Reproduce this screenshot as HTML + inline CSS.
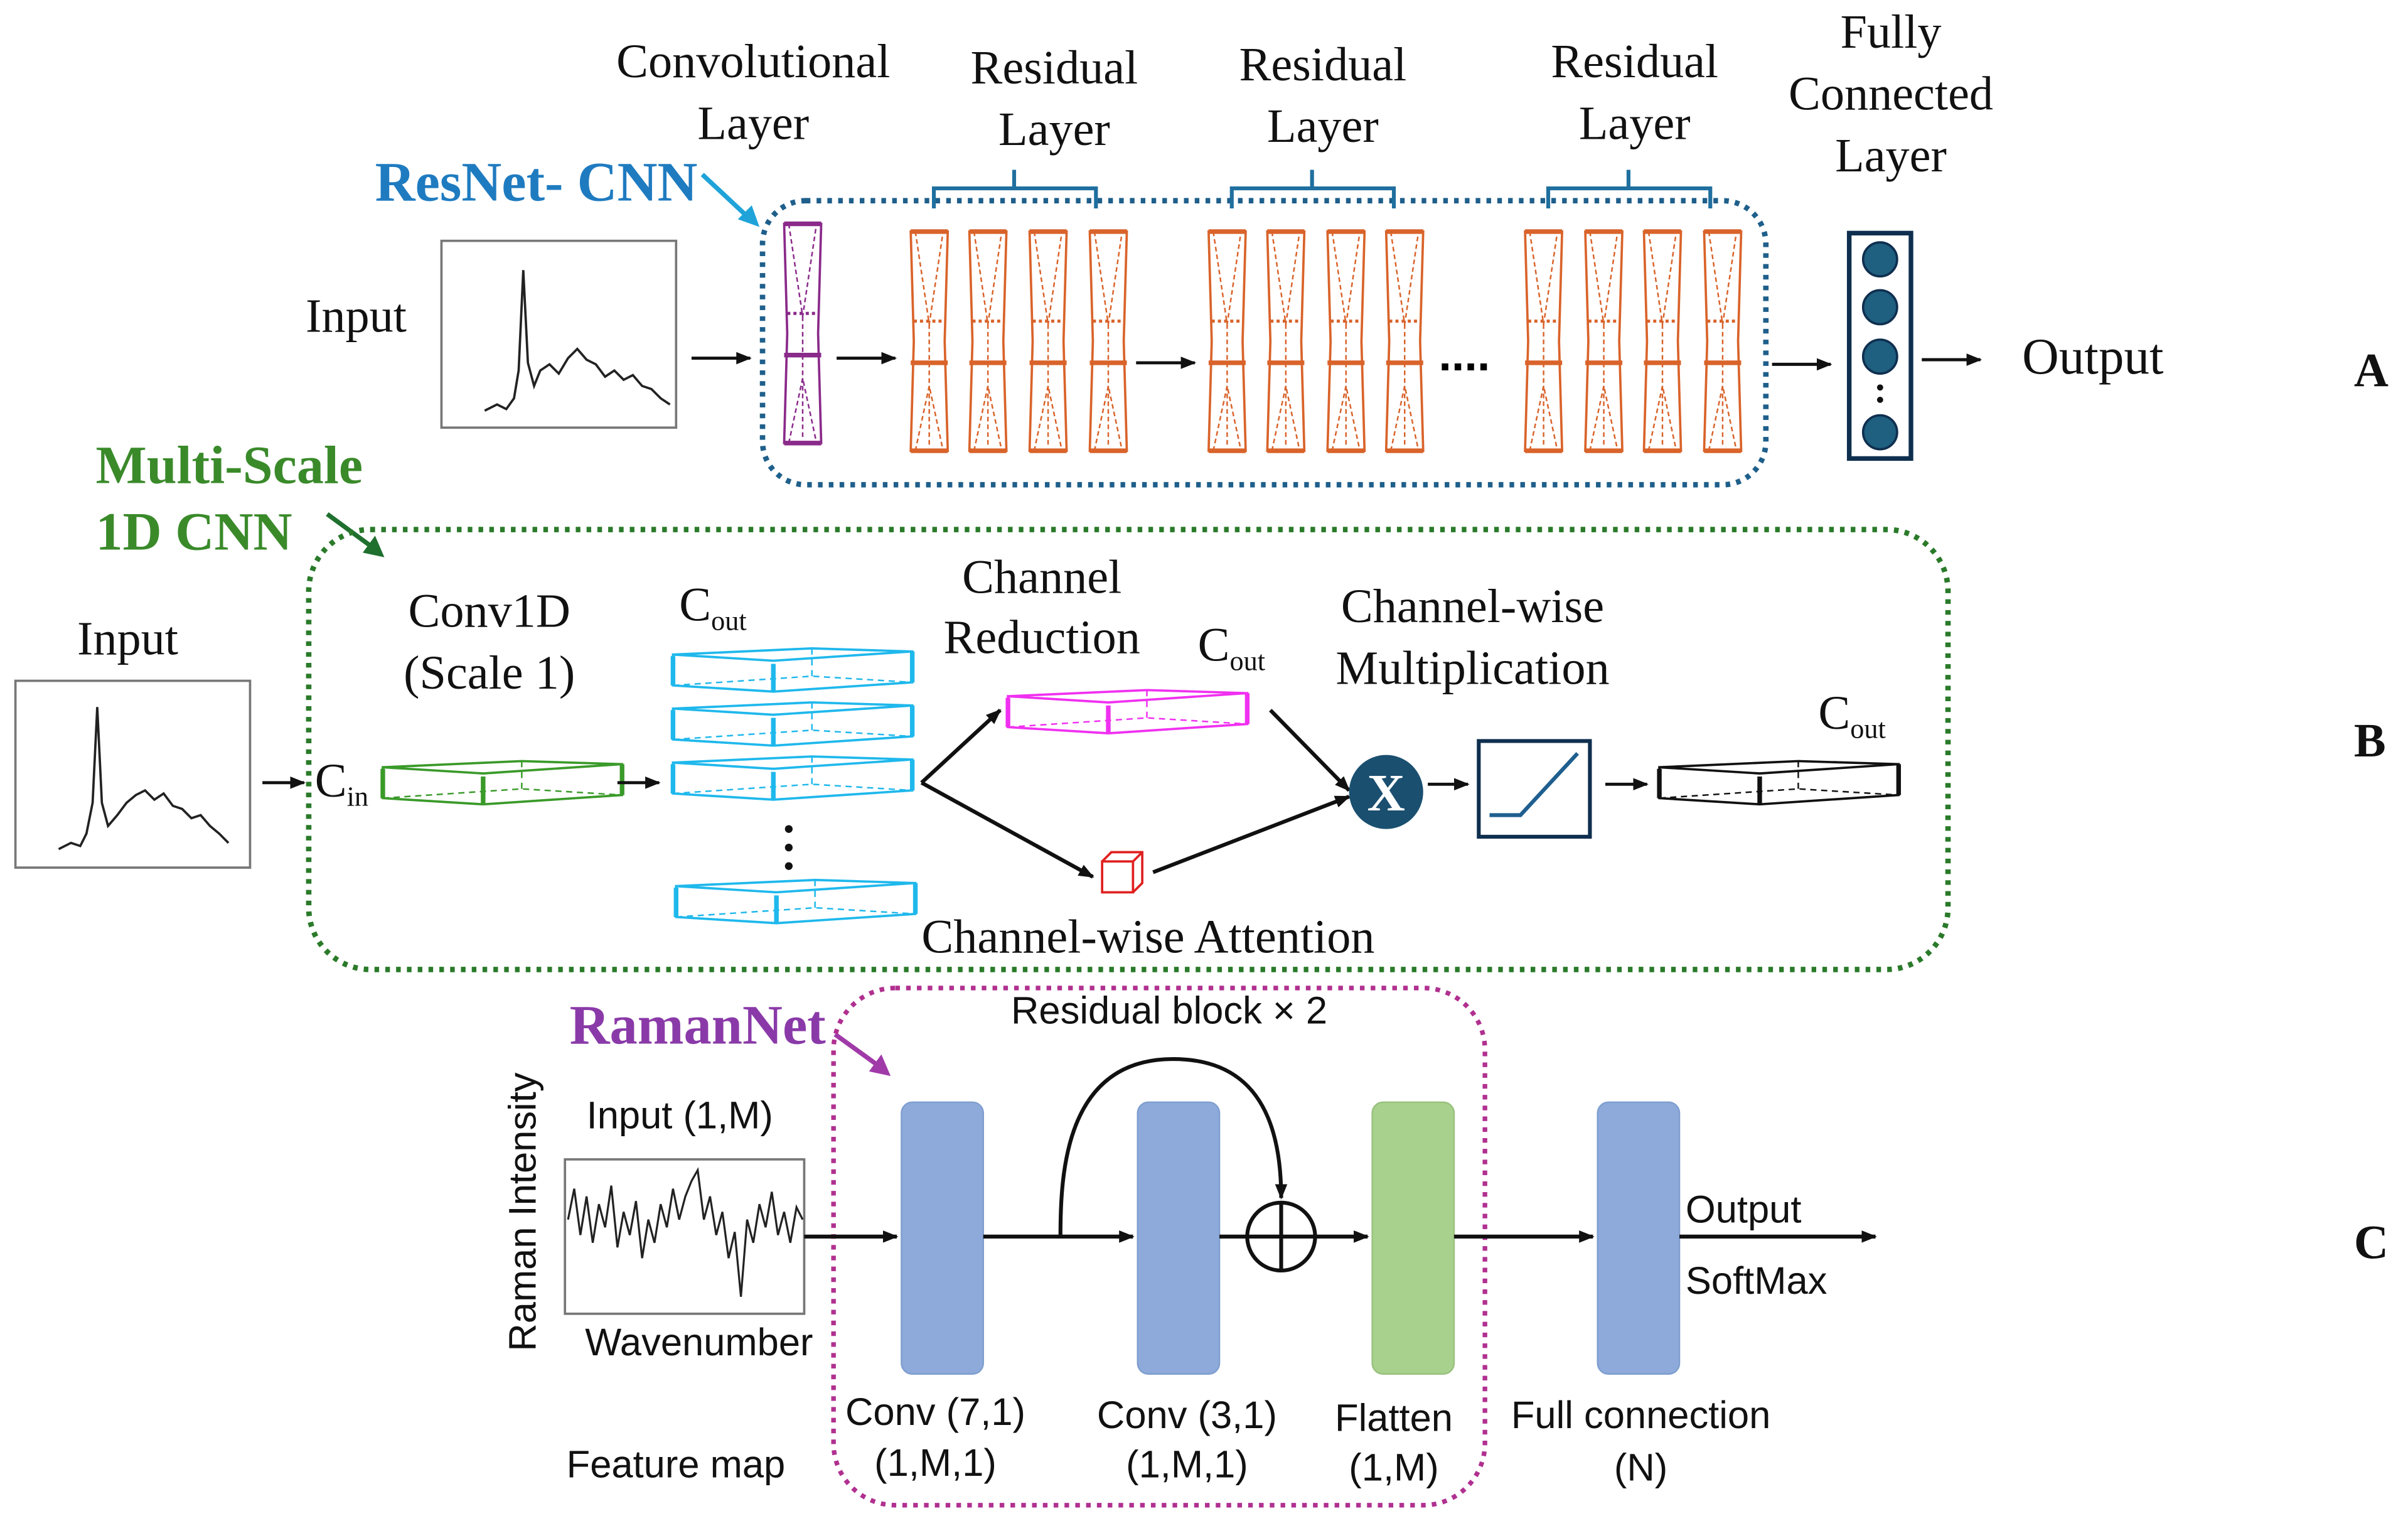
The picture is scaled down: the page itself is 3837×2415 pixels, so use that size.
<!DOCTYPE html>
<html><head><meta charset="utf-8"><style>
html,body{margin:0;padding:0;background:#fff;}
svg{display:block;}
.s{font-family:"Liberation Serif",serif;font-size:31px;fill:#111;}
.a{font-family:"Liberation Sans",sans-serif;font-size:25px;fill:#111;}
</style></head><body>
<svg width="3837" height="2415" viewBox="0 0 1560 982" preserveAspectRatio="none" xmlns="http://www.w3.org/2000/svg">
<defs>
<marker id="ar" markerWidth="10" markerHeight="10" refX="9" refY="5" orient="auto" markerUnits="userSpaceOnUse"><path d="M0,1 L10,5 L0,9z" fill="#111"/></marker>
<g id="lay">
<path d="M0,0 H24 L22,71 L24,142 H0 L2,71 Z" fill="none" stroke-width="1.5"/>
<path d="M0,0 H24 M0,142 H24 M0,85 H24" stroke-width="3"/>
<path d="M3,0 L12,60 L21,0 M3,142 L12,100 L21,142 M12,60 V140" fill="none" stroke-width="1" stroke-dasharray="3,2"/>
<path d="M2,58 H22" stroke-width="2" stroke-dasharray="2,2"/>
</g>
<g id="slab">
<path d="M0,4 L65,8 L155,2 L155,22 L65,28 L0,24 Z M0,4 L90,0 L155,2" fill="none" stroke-width="1.5"/>
<path d="M65,10 V28 M0,5 V24 M155,2 V22" stroke-width="3"/>
<path d="M0,24 L90,18 L155,22 M90,0 V18" fill="none" stroke-width="1" stroke-dasharray="4,3"/>
</g>
</defs>

<!-- Section A -->
<text class="s" x="488" y="50" text-anchor="middle">Convolutional</text>
<text class="s" x="488" y="90" text-anchor="middle">Layer</text>
<text class="s" x="683" y="54" text-anchor="middle">Residual</text>
<text class="s" x="683" y="94" text-anchor="middle">Layer</text>
<text class="s" x="857" y="52" text-anchor="middle">Residual</text>
<text class="s" x="857" y="92" text-anchor="middle">Layer</text>
<text class="s" x="1059" y="50" text-anchor="middle">Residual</text>
<text class="s" x="1059" y="90" text-anchor="middle">Layer</text>
<text class="s" x="1225" y="31" text-anchor="middle">Fully</text>
<text class="s" x="1225" y="71" text-anchor="middle">Connected</text>
<text class="s" x="1225" y="111" text-anchor="middle">Layer</text>
<text x="243" y="130" style="font-family:'Liberation Serif',serif;font-size:36px;font-weight:bold;fill:#1f7bc0">ResNet- CNN</text>
<path d="M455,113 L486,142" stroke="#1fa3d8" stroke-width="3"/><path d="M492,147 L478,142 L487,133z" fill="#1fa3d8"/>
<rect x="286" y="156" width="152" height="121" fill="#fff" stroke="#777" stroke-width="1.5"/>
<polyline points="314,266 322,262 328,265 333,258 336,240 339,175 342,235 346,250 350,240 356,236 362,242 368,232 374,226 380,233 386,236 392,244 398,240 404,246 410,243 416,250 422,252 428,258 434,262" fill="none" stroke="#222" stroke-width="1.5"/>
<text class="s" x="198" y="215">Input</text>
<path d="M448,232 H486" stroke="#111" stroke-width="2" marker-end="url(#ar)"/>
<rect x="494" y="130" width="650" height="184" rx="28" fill="none" stroke="#1f5f8b" stroke-width="3.5" stroke-dasharray="3,4"/>
<use href="#lay" x="508" y="145" stroke="#8a2a8a"/>
<path d="M542,232 H580" stroke="#111" stroke-width="2" marker-end="url(#ar)"/>
<g stroke="#d9632a">
<use href="#lay" x="590" y="150"/><use href="#lay" x="628" y="150"/><use href="#lay" x="667" y="150"/><use href="#lay" x="706" y="150"/>
<use href="#lay" x="783" y="150"/><use href="#lay" x="821" y="150"/><use href="#lay" x="860" y="150"/><use href="#lay" x="898" y="150"/>
<use href="#lay" x="988" y="150"/><use href="#lay" x="1027" y="150"/><use href="#lay" x="1065" y="150"/><use href="#lay" x="1104" y="150"/>
</g>
<path d="M736,235 H774" stroke="#111" stroke-width="2" marker-end="url(#ar)"/>
<text x="932" y="240" style="font-family:'Liberation Sans',sans-serif;font-size:30px;font-weight:bold">....</text>
<g fill="none" stroke="#1f6f9f" stroke-width="2.5">
<path d="M605,135 V122 H710 V135 M657,122 V110"/>
<path d="M798,135 V122 H903 V135 M850,122 V110"/>
<path d="M1003,135 V122 H1108 V135 M1055,122 V110"/>
</g>
<path d="M1148,236 H1186" stroke="#111" stroke-width="2" marker-end="url(#ar)"/>
<rect x="1198" y="151" width="40" height="146" fill="#fff" stroke="#0f2f4f" stroke-width="3"/>
<g fill="#1f5f7f" stroke="#0f2f4f" stroke-width="1.5">
<circle cx="1218" cy="168" r="11"/><circle cx="1218" cy="199" r="11"/><circle cx="1218" cy="231" r="11"/><circle cx="1218" cy="280" r="11"/>
</g>
<circle cx="1218" cy="251" r="2" fill="#111"/><circle cx="1218" cy="259" r="2" fill="#111"/>
<path d="M1245,233 H1283" stroke="#111" stroke-width="2" marker-end="url(#ar)"/>
<text class="s" x="1310" y="242" style="font-size:33px">Output</text>
<text class="s" x="1525" y="250" style="font-weight:bold">A</text>

<!-- Section B -->
<text x="62" y="313" style="font-family:'Liberation Serif',serif;font-size:35px;font-weight:bold;fill:#3a8a2a">Multi-Scale</text>
<text x="62" y="356" style="font-family:'Liberation Serif',serif;font-size:35px;font-weight:bold;fill:#3a8a2a">1D CNN</text>
<path d="M212,333 L242,355" stroke="#1f6f2f" stroke-width="3"/><path d="M249,361 L235,358 L243,347z" fill="#1f6f2f"/>
<rect x="200" y="343" width="1062" height="285" rx="40" fill="none" stroke="#2a7a2a" stroke-width="3.5" stroke-dasharray="3,4"/>
<rect x="10" y="441" width="152" height="121" fill="#fff" stroke="#777" stroke-width="1.5"/>
<polyline points="38,550 46,546 52,548 56,540 60,520 63,458 66,520 70,535 76,528 82,520 88,515 94,512 100,518 106,514 112,522 118,524 124,530 130,528 136,535 142,540 148,546" fill="none" stroke="#222" stroke-width="1.5"/>
<text class="s" x="50" y="424">Input</text>
<path d="M170,507 H197" stroke="#111" stroke-width="2" marker-end="url(#ar)"/>
<text class="s" x="204" y="516">C<tspan font-size="18" dy="6">in</tspan></text>
<use href="#slab" x="248" y="493" stroke="#3a9a2a"/>
<text class="s" x="317" y="406" text-anchor="middle">Conv1D</text>
<text class="s" x="317" y="446" text-anchor="middle">(Scale 1)</text>
<path d="M400,507 H427" stroke="#111" stroke-width="2" marker-end="url(#ar)"/>
<g stroke="#1fb8ec">
<use href="#slab" x="436" y="420"/><use href="#slab" x="436" y="455"/><use href="#slab" x="436" y="490"/><use href="#slab" x="438" y="570"/>
</g>
<circle cx="511" cy="537" r="2.5" fill="#111"/><circle cx="511" cy="549" r="2.5" fill="#111"/><circle cx="511" cy="561" r="2.5" fill="#111"/>
<text class="s" x="440" y="402">C<tspan font-size="18" dy="6">out</tspan></text>
<text class="s" x="675" y="384" text-anchor="middle">Channel</text>
<text class="s" x="675" y="423" text-anchor="middle">Reduction</text>
<use href="#slab" x="653" y="447" stroke="#f030f0"/>
<text class="s" x="776" y="428">C<tspan font-size="18" dy="6">out</tspan></text>
<path d="M597,507 L648,460" stroke="#111" stroke-width="2.5" marker-end="url(#ar)"/>
<path d="M597,507 L708,568" stroke="#111" stroke-width="2.5" marker-end="url(#ar)"/>
<g stroke="#e02020" fill="none" stroke-width="1.5"><rect x="714" y="558" width="20" height="20"/><path d="M714,558 L720,552 H740 V572 L734,578 M734,558 L740,552"/></g>
<path d="M747,565 L874,516" stroke="#111" stroke-width="2.5" marker-end="url(#ar)"/>
<path d="M823,460 L874,512" stroke="#111" stroke-width="2.5" marker-end="url(#ar)"/>
<circle cx="898" cy="513" r="24" fill="#1a4f6f"/>
<text x="898" y="525" text-anchor="middle" style="font-family:'Liberation Serif',serif;font-size:34px;font-weight:bold;fill:#fff">X</text>
<text class="s" x="954" y="403" text-anchor="middle">Channel-wise</text>
<text class="s" x="954" y="443" text-anchor="middle">Multiplication</text>
<path d="M925,508 H951" stroke="#111" stroke-width="2" marker-end="url(#ar)"/>
<rect x="958" y="480" width="72" height="62" fill="#fff" stroke="#0f2f4f" stroke-width="2.5"/>
<path d="M965,528 H985 L1022,488" fill="none" stroke="#1f5f8f" stroke-width="2.5"/>
<path d="M1040,508 H1067" stroke="#111" stroke-width="2" marker-end="url(#ar)"/>
<use href="#slab" x="1075" y="493" stroke="#111"/>
<text class="s" x="1178" y="472">C<tspan font-size="18" dy="6">out</tspan></text>
<text class="s" x="597" y="617">Channel-wise Attention</text>
<text class="s" x="1525" y="490" style="font-weight:bold">B</text>

<!-- Section C -->
<text x="369" y="676" style="font-family:'Liberation Serif',serif;font-size:36px;font-weight:bold;fill:#8a3aa8">RamanNet</text>
<path d="M541,670 L570,691" stroke="#a03aa8" stroke-width="3"/><path d="M577,697 L563,694 L571,683z" fill="#a03aa8"/>
<rect x="540" y="640" width="422" height="335" rx="40" fill="none" stroke="#b03090" stroke-width="3" stroke-dasharray="3,4"/>
<text class="a" x="655" y="663">Residual block × 2</text>
<text class="a" x="347" y="785" text-anchor="middle" transform="rotate(-90 347 785)">Raman Intensity</text>
<text class="a" x="380" y="731">Input (1,M)</text>
<rect x="366" y="751" width="155" height="100" fill="#fff" stroke="#777" stroke-width="1.5"/>
<polyline points="368,790 372,770 376,800 380,775 384,805 388,780 392,795 396,768 400,808 404,785 408,800 412,778 416,815 420,790 424,805 428,780 432,795 436,770 440,790 444,775 448,765 452,758 456,790 460,775 464,800 468,785 472,815 476,798 480,840 484,790 488,805 492,780 496,795 500,772 504,800 508,785 512,805 516,782 520,790" fill="none" stroke="#222" stroke-width="1.3"/>
<text class="a" x="379" y="878">Wavenumber</text>
<text class="a" x="367" y="957">Feature map</text>
<path d="M521,801 H581" stroke="#111" stroke-width="2.5" marker-end="url(#ar)"/>
<rect x="584" y="714" width="53" height="176" rx="7" fill="#8eaadb" stroke="#7f9fcf"/>
<rect x="737" y="714" width="53" height="176" rx="7" fill="#8eaadb" stroke="#7f9fcf"/>
<rect x="889" y="714" width="53" height="176" rx="7" fill="#a9d18e" stroke="#99c17e"/>
<rect x="1035" y="714" width="53" height="176" rx="7" fill="#8eaadb" stroke="#7f9fcf"/>
<path d="M637,801 H734" stroke="#111" stroke-width="2.5" marker-end="url(#ar)"/>
<path d="M687,801 C687,760 690,686 760,686 C810,686 830,720 830,776" fill="none" stroke="#111" stroke-width="2.5" marker-end="url(#ar)"/>
<circle cx="830" cy="801" r="22" fill="#fff" stroke="#111" stroke-width="2.5"/>
<path d="M808,801 H852 M830,779 V823" stroke="#111" stroke-width="2.5"/>
<path d="M790,801 H808" stroke="#111" stroke-width="2.5"/>
<path d="M852,801 H886" stroke="#111" stroke-width="2.5" marker-end="url(#ar)"/>
<path d="M942,801 H1032" stroke="#111" stroke-width="2.5" marker-end="url(#ar)"/>
<path d="M1088,801 H1215" stroke="#111" stroke-width="2.5" marker-end="url(#ar)"/>
<text class="a" x="1092" y="792">Output</text>
<text class="a" x="1092" y="838">SoftMax</text>
<text class="a" x="606" y="923" text-anchor="middle">Conv (7,1)</text>
<text class="a" x="606" y="956" text-anchor="middle">(1,M,1)</text>
<text class="a" x="769" y="925" text-anchor="middle">Conv (3,1)</text>
<text class="a" x="769" y="957" text-anchor="middle">(1,M,1)</text>
<text class="a" x="903" y="927" text-anchor="middle">Flatten</text>
<text class="a" x="903" y="959" text-anchor="middle">(1,M)</text>
<text class="a" x="1063" y="925" text-anchor="middle">Full connection</text>
<text class="a" x="1063" y="959" text-anchor="middle">(N)</text>
<text class="s" x="1525" y="815" style="font-weight:bold">C</text>
</svg>
</body></html>
